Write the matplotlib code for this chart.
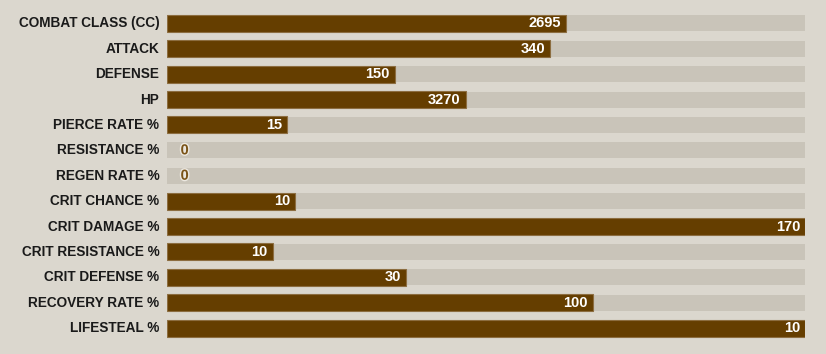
import matplotlib.pyplot as plt
import matplotlib.patheffects as pe

stats = ['COMBAT CLASS (CC)', 'ATTACK', 'DEFENSE', 'HP', 'PIERCE RATE %',
         'RESISTANCE %', 'REGEN RATE %', 'CRIT CHANCE %', 'CRIT DAMAGE %',
         'CRIT RESISTANCE %', 'CRIT DEFENSE %', 'RECOVERY RATE %', 'LIFESTEAL %']
values = [2695, 340, 150, 3270, 15, 0, 0, 10, 170, 10, 30, 100, 10]
# bar fill as share of each stat's own max
fill = [0.626, 0.601, 0.357, 0.468, 0.188, 0.0, 0.0, 0.201, 1.0, 0.166, 0.375, 0.667, 1.0]

bg = '#dbd7ce'
track_col = '#c9c4b9'
bar_col = '#653e00'

fig = plt.figure(figsize=(8.26, 3.54), dpi=100, facecolor=bg)
ax = fig.add_axes([166.7 / 826, 1 - 340.7 / 354, 638.6 / 826, 329.9 / 354])
ax.set_facecolor(bg)

ypos = list(range(len(stats)))
ax.barh(ypos, [1.0] * len(stats), height=0.63, color=track_col, linewidth=0)
filled = [i for i in ypos if fill[i] > 0]
ax.barh(filled, [fill[i] for i in filled], height=0.67, color=bar_col,
        edgecolor='#8c6d40', linewidth=0.8)

ax.set_xlim(0, 1.0)
ax.set_ylim(12.5, -0.5)
ax.axis('off')

for i, (name, v, f) in enumerate(zip(stats, values, fill)):
    ax.annotate(name, (0, i), xytext=(-5.3, 0), textcoords='offset points',
                ha='right', va='center', fontsize=9.8, fontweight='bold',
                family='Liberation Sans', color='#1a1a1a')
    if f > 0:
        ax.annotate(str(v), (f, i), xytext=(-3.6, 0), textcoords='offset points',
                    ha='right', va='center', fontsize=10.5, fontweight='bold',
                    family='Liberation Sans', color='white')
    else:
        ax.annotate(str(v), (0, i), xytext=(10, 0), textcoords='offset points',
                    ha='left', va='center', fontsize=10.5, fontweight='bold',
                    family='Liberation Sans', color='#7a5316',
                    path_effects=[pe.withStroke(linewidth=2, foreground='#ece8e0')])

fig.savefig('out.png', dpi=100, facecolor=bg)
